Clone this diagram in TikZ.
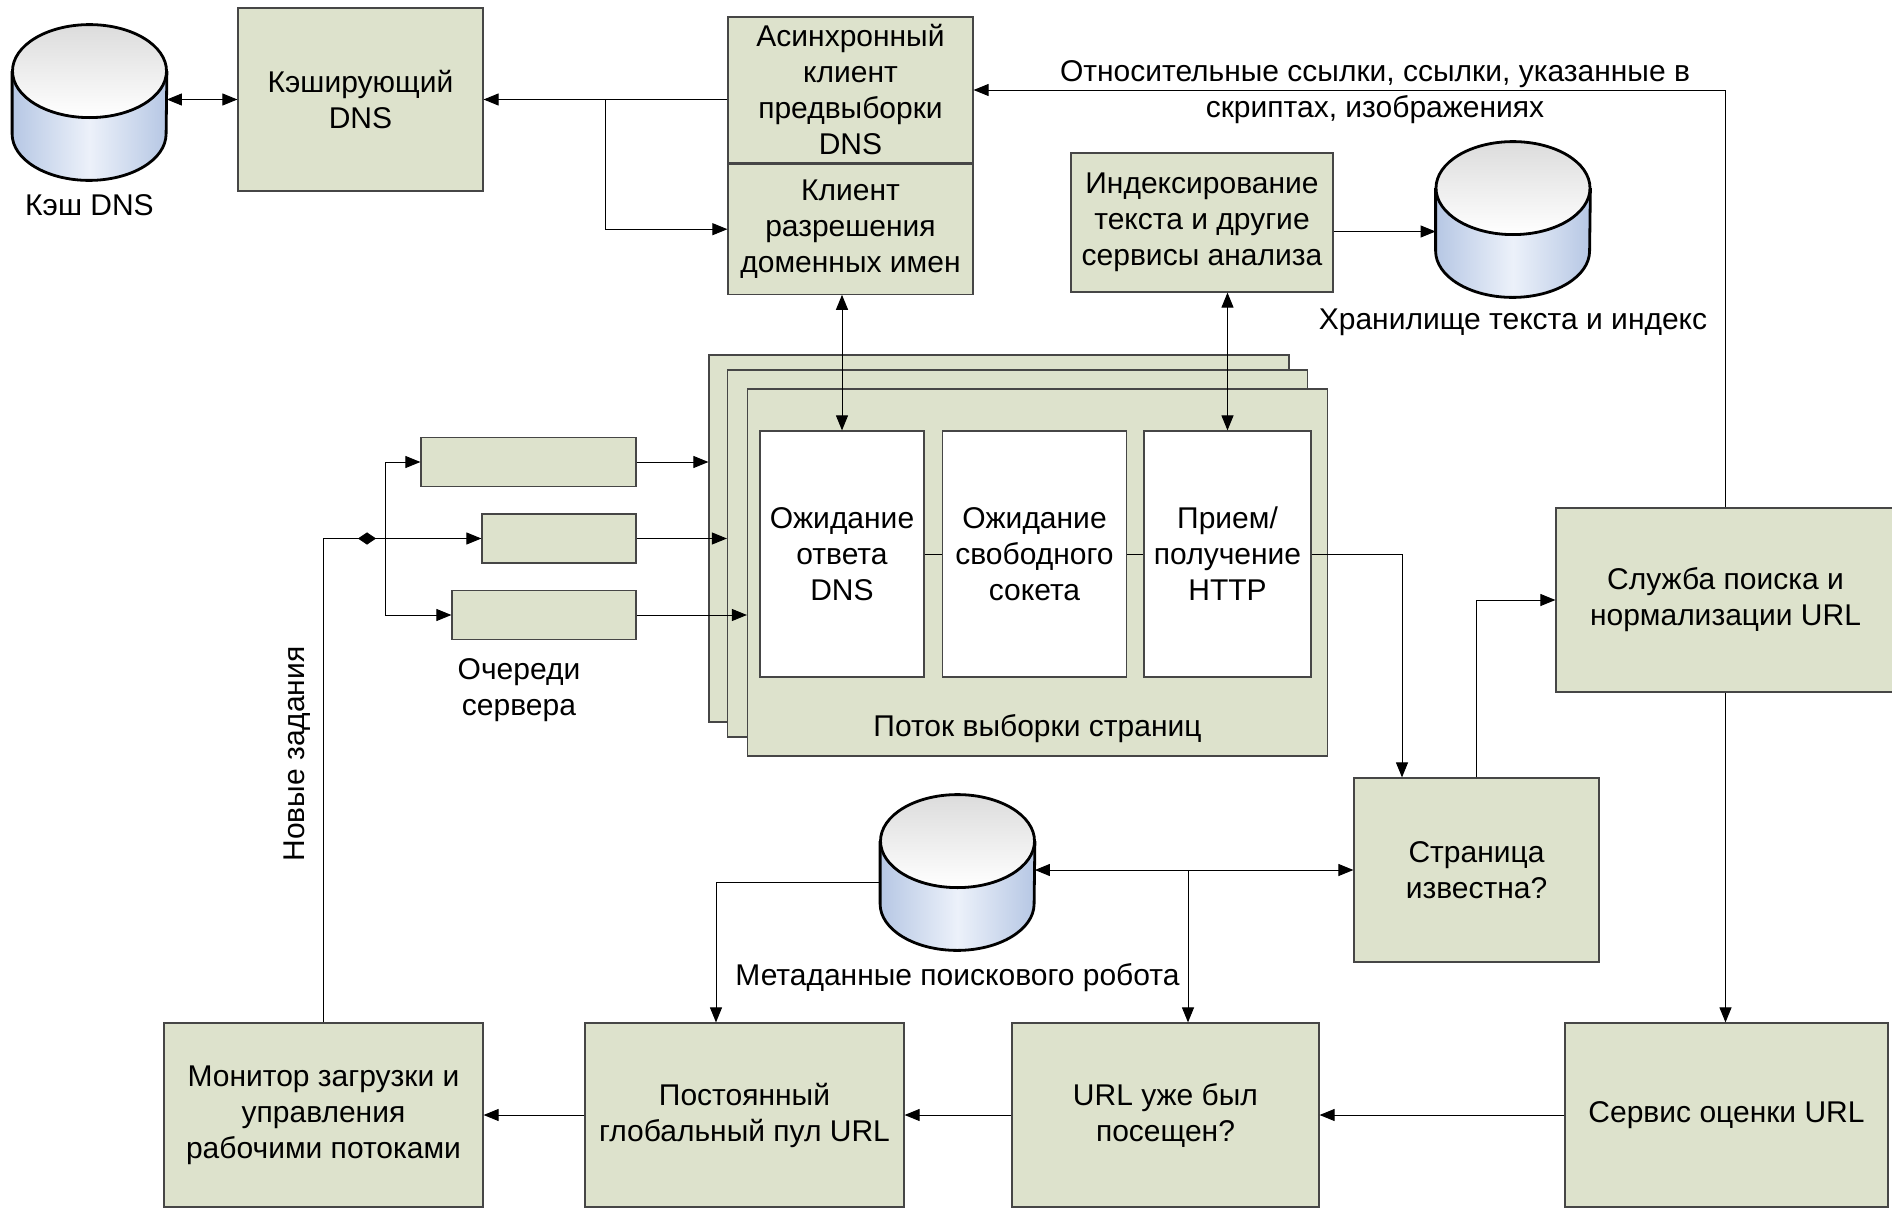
\documentclass[tikz,border=0pt]{standalone}
\usepackage{fontspec}
\setmainfont{Liberation Sans}
\usetikzlibrary{arrows.meta, positioning}

\definecolor{boxfill}{RGB}{221,226,204}
\definecolor{boxline}{RGB}{70,70,70}
\definecolor{dbblue}{RGB}{182,199,228}
\definecolor{dblight}{RGB}{236,241,250}
\definecolor{dbgray}{RGB}{220,220,220}

% cylinder drawn over an empty node of style dbase
\newcommand{\dbshape}[1]{%
  \shade[left color=dbblue, right color=dbblue, middle color=dblight]
    ([yshift=-23.25pt]#1.north west) -- ([yshift=23.25pt]#1.south west)
    arc[start angle=180, end angle=360, x radius=38.5pt, y radius=23.25pt]
    -- ([yshift=-23.25pt]#1.north east) -- cycle;
  \shade[top color=dbgray, bottom color=white]
    ([yshift=-23.25pt]#1.north) ellipse[x radius=38.5pt, y radius=23.25pt];
  \draw[line width=1.4pt]
    ([yshift=-23.25pt]#1.north west) -- ([yshift=23.25pt]#1.south west)
    arc[start angle=180, end angle=360, x radius=38.5pt, y radius=23.25pt]
    -- ([yshift=-23.25pt]#1.north east);
  \draw[line width=1.4pt]
    ([yshift=-23.25pt]#1.north) ellipse[x radius=38.5pt, y radius=23.25pt];
}

\begin{document}
\begin{tikzpicture}[
    x=0.5pt, y=-0.5pt,
    font=\fontsize{15pt}{18pt}\selectfont,
    >={Triangle[length=7.5pt, width=6pt]},
    pbox/.style={rectangle, draw=boxline, fill=boxfill, line width=0.6pt, align=center, inner sep=2pt},
    wbox/.style={rectangle, draw=boxline, fill=white, line width=0.6pt, align=center, minimum height=123pt},
    tbox/.style={pbox, minimum width=290pt, minimum height=183.5pt},
    qbox/.style={pbox, minimum height=24.5pt},
    dbase/.style={rectangle, minimum width=77pt, minimum height=77.5pt, inner sep=0pt},
    link/.style={line width=0.5pt},
  ]
  \useasboundingbox (0,0) rectangle (1892,1210);

  % DNS
  \node[dbase] (kdns) at (89.5,102.5) {};
  \dbshape{kdns}
  \node (kdnslbl) at (89.5,205) {Кэш DNS};
  \node[pbox, minimum width=122.5pt, minimum height=91.5pt] (cdns) at (360.5,99.5) {Кэширующий\\DNS};
  \node[pbox, minimum width=122.5pt, minimum height=73pt] (async) at (850.5,90) {Асинхронный\\клиент\\предвыборки\\DNS};
  \node[pbox, minimum width=122.5pt, minimum height=65pt, below=0pt of async] (resolv) {Клиент\\разрешения\\доменных имен};

  % index
  \node[pbox, minimum width=131pt, minimum height=69.5pt] (index) at (1202,222.5) {Индексирование\\текста и другие\\сервисы анализа};
  \node[dbase] (store) at (1513,219.5) {};
  \dbshape{store}
  \node (storelbl) at (1513,322) {Хранилище текста и индекс};

  % fetch threads
  \node[tbox] (back)  at (999,538.5)   {};
  \node[tbox] (mid)   at (1017.5,553.5) {};
  \node[tbox] (front) at (1037.5,572.5) {};
  \node (frontlbl) at ([yshift=14pt]front.south) {Поток выборки страниц};
  \node[wbox, minimum width=82pt]   (dnsw)  at (842,554)    {Ожидание\\ответа\\DNS};
  \node[wbox, minimum width=92pt]   (sockw) at (1034.5,554) {Ожидание\\свободного\\сокета};
  \node[wbox, minimum width=83.5pt] (httpw) at (1227.5,554) {Прием/\\получение\\HTTP};

  % server queues
  \node[qbox, minimum width=107.5pt] (q1) at (528.5,462) {};
  \node[qbox, minimum width=77pt]    (q2) at (559,538.5) {};
  \node[qbox, minimum width=92pt]    (q3) at (544,615)   {};
  \node[align=center] (qlbl) at (519,690) {Очереди\\сервера};

  % right and bottom
  \node[pbox, minimum width=169.5pt, minimum height=92pt] (serv) at (1725.5,600) {Служба поиска и\\нормализации URL};
  \node[pbox, minimum width=122.5pt, minimum height=92pt] (page) at (1476.5,870) {Страница\\известна?};
  \node[dbase] (meta) at (957.5,872.5) {};
  \dbshape{meta}
  \node (metalbl) at (957.5,978) {Метаданные поискового робота};
  \node[pbox, minimum width=159.5pt, minimum height=92pt] (monitor) at (323.5,1115) {Монитор загрузки и\\управления\\рабочими потоками};
  \node[pbox, minimum width=159.5pt, minimum height=92pt] (pool) at (744.5,1115) {Постоянный\\глобальный пул URL};
  \node[pbox, minimum width=153.5pt, minimum height=92pt] (visited) at (1165.5,1115) {URL уже был\\посещен?};
  \node[pbox, minimum width=161.5pt, minimum height=92pt] (rate) at (1726.5,1115) {Сервис оценки URL};
  \node[rotate=90] (newlbl) at (297,754) {Новые задания};
  \node[align=center] (linkslbl) at (1375,92.5) {Относительные ссылки, ссылки, указанные в\\скриптах, изображениях};

  \coordinate (dnsfork) at (605,99.5);
  \coordinate (qfork) at (385,538.5);
  \coordinate (jmark) at (367,538.5);
  \coordinate (httpturn) at (1402,554);
  \coordinate (metafork) at (1188,870);
  \coordinate (poolturn) at (716,882);

  % connectors
  \draw[link, <->] (cdns.west -| kdns.east) -- (cdns.west);
  \draw[link, ->] (async.west |- cdns.east) -- (cdns.east);
  \draw[link, ->] (dnsfork) |- (resolv.west);
  \draw[link, ->] (serv.north) |- (async.east);
  \draw[link, ->] ([yshift=-4.5pt]index.east) -- ([yshift=-4.5pt]index.east -| store.west);
  \draw[link, <->] (resolv.south -| dnsw.north) -- (dnsw.north);
  \draw[link, <->] (index.south -| httpw.north) -- (httpw.north);
  \draw[link] (dnsw.east) -- (sockw.west);
  \draw[link] (sockw.east) -- (httpw.west);
  \draw[link, ->] (httpw.east) -- (httpturn) -- (httpturn |- page.north);
  \draw[link, ->] (page.north) |- (serv.west);
  \draw[link, ->] (serv.south) -- (serv.south |- rate.north);

  \draw[link, ->] (q1.east) -- (q1.east -| back.west);
  \draw[link, ->] (q2.east) -- (q2.east -| mid.west);
  \draw[link, ->] (q3.east) -- (q3.east -| front.west);
  \draw[link, ->] (qfork) |- (q1.west);
  \draw[link, ->] (qfork) |- (q3.west);
  \draw[link, ->] (monitor.north) |- (q2.west);
  \draw[{Triangle[length=4.5pt, width=6pt]}-{Triangle[length=4.5pt, width=6pt]}] ([xshift=-4.5pt]jmark) -- ([xshift=4.5pt]jmark);

  \draw[link, <->] (page.west -| meta.east) -- (page.west);
  \draw[link, ->] (metafork) -- (metafork |- visited.north);
  \draw[link, ->] (poolturn -| meta.west) -- (poolturn) -- (poolturn |- pool.north);
  \draw[link, ->] (rate.west) -- (visited.east);
  \draw[link, ->] (visited.west) -- (pool.east);
  \draw[link, ->] (pool.west) -- (monitor.east);
\end{tikzpicture}
\end{document}
